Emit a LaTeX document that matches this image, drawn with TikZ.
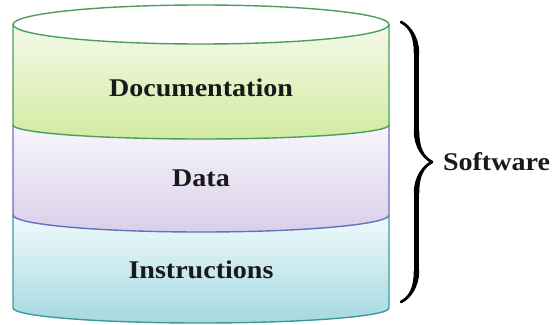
\documentclass[tikz,border=0pt]{standalone}
\usepackage{fontspec}
\setmainfont{Liberation Serif}
\usetikzlibrary{decorations.pathreplacing,calligraphy}
\definecolor{docTop}{HTML}{F4F9E8}
\definecolor{docBot}{HTML}{D3EAA2}
\definecolor{docLine}{HTML}{4A9E5E}
\definecolor{datTop}{HTML}{F8F6FC}
\definecolor{datBot}{HTML}{D8CFEA}
\definecolor{datLine}{HTML}{6670C0}
\definecolor{insTop}{HTML}{F0FAFC}
\definecolor{insBot}{HTML}{A4D9E0}
\definecolor{insLine}{HTML}{3E9A98}
\tikzset{
  band/.style={line width=1.4pt},
  lbl/.style={font=\fontsize{25.5}{30}\selectfont\bfseries, text=black!90, inner sep=0pt},
}
\begin{document}
\begin{tikzpicture}[x=1pt,y=1pt]
\useasboundingbox (0,0) rectangle (559,324);
% Instructions band
\path[band, top color=insTop, bottom color=insBot]
  (13,109) -- (13,16) arc[start angle=180,end angle=360,x radius=188,y radius=15]
  -- (389,109) arc[start angle=360,end angle=180,x radius=188,y radius=17] -- cycle;
\draw[band, draw=insLine] (13,109) -- (13,16) arc[start angle=180,end angle=360,x radius=188,y radius=15] -- (389,109);
% Data band
\path[band, top color=datTop, bottom color=datBot]
  (13,199) -- (13,109) arc[start angle=180,end angle=360,x radius=188,y radius=17]
  -- (389,199) arc[start angle=360,end angle=180,x radius=188,y radius=14] -- cycle;
\draw[band, draw=datLine] (13,199) -- (13,109) arc[start angle=180,end angle=360,x radius=188,y radius=17] -- (389,199);
% Documentation band
\path[band, top color=docTop, bottom color=docBot]
  (13,299.5) -- (13,199) arc[start angle=180,end angle=360,x radius=188,y radius=14]
  -- (389,299.5) arc[start angle=360,end angle=180,x radius=188,y radius=19.5] -- cycle;
\draw[band, draw=docLine] (13,299.5) -- (13,199) arc[start angle=180,end angle=360,x radius=188,y radius=14] -- (389,299.5);
% top ellipse
\draw[band, draw=docLine, fill=white] (201,299.5) ellipse[x radius=188, y radius=19.5];
% labels
\node[lbl] (doc) at (201,236) {\scalebox{1.1}[1]{Documentation}};
\node[lbl] (dat) at (201,146) {\scalebox{1.1}[1]{Data}};
\node[lbl] (ins) at (201,54) {\scalebox{1.1}[1]{Instructions}};
\node[lbl] (sw) at (496.5,162) {\scalebox{1.1}[1]{Software}};
% brace
\coordinate (bt) at (401,302);
\coordinate (bb) at (401,22);
\draw[decorate, decoration={calligraphic brace, amplitude=31pt}, line width=5.5pt, pen colour={black}] (bt) -- (bb);
\end{tikzpicture}
\end{document}
